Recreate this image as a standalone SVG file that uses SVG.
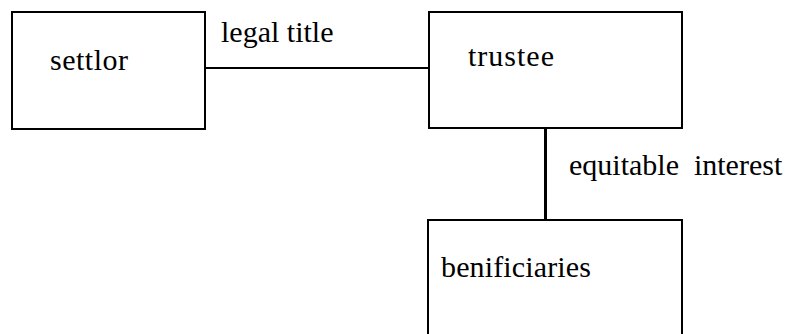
<svg xmlns="http://www.w3.org/2000/svg" width="790" height="334" viewBox="0 0 790 334">
<style>
.box{fill:#fff;stroke:#000;stroke-width:2}
.ln{stroke:#000;stroke-width:2;fill:none}
.t{font-family:"Liberation Serif","Times New Roman",serif;font-size:30px;fill:#000}
</style>
<rect width="790" height="334" fill="#fff"/>
<g id="connectors">
<line class="ln" x1="205" y1="68" x2="429" y2="68"/>
<line class="ln" x1="545.5" y1="128" x2="545.5" y2="220" style="stroke-width:3"/>
<text class="t" x="221" y="42">legal title</text>
<text class="t" x="569" y="175" xml:space="preserve">equitable  interest</text>
</g>
<g id="settlor">
<rect class="box" x="12" y="12" width="193" height="117"/>
<text class="t" x="50" y="70" textLength="78">settlor</text>
</g>
<g id="trustee">
<rect class="box" x="429" y="12" width="253" height="116"/>
<text class="t" x="468" y="66" textLength="86">trustee</text>
</g>
<g id="beneficiaries">
<rect class="box" x="428" y="220" width="254" height="130"/>
<text class="t" x="441" y="277" textLength="150">benificiaries</text>
</g>
</svg>
